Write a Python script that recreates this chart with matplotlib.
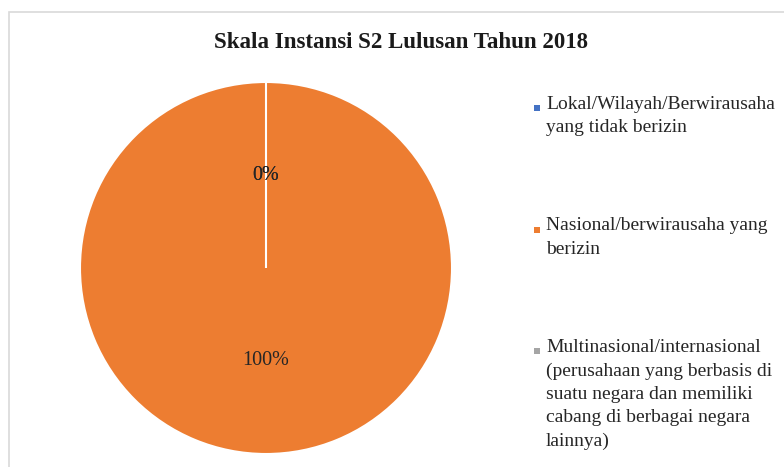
import matplotlib.pyplot as plt
from matplotlib.patches import Rectangle

categories = ['Lokal/Wilayah/Berwirausaha\nyang tidak berizin',
              'Nasional/berwirausaha yang\nberizin',
              'Multinasional/internasional\n(perusahaan yang berbasis di\nsuatu negara dan memiliki\ncabang di berbagai negara\nlainnya)']
values = [0, 100, 0]
colors = ['#4472C4', '#ED7D31', '#A5A5A5']

plt.rcParams['font.family'] = ['Liberation Serif', 'DejaVu Serif']

W, H = 784, 467
fig = plt.figure(figsize=(W / 100, H / 100), dpi=100)
# chart frame
fig.patches.append(Rectangle((9 / W, -0.1), 1.0, 1 - 12 / H + 0.1,
                             transform=fig.transFigure, fill=False,
                             edgecolor='#d9d9d9', linewidth=1.2))

ax = fig.add_axes([80 / W, 13 / H, 372 / W, 372 / H])
wedges, texts, autotexts = ax.pie(values, colors=colors, startangle=90, counterclock=False,
                                  autopct='%1.0f%%', pctdistance=0.5, radius=1,
                                  wedgeprops={'edgecolor': 'white', 'linewidth': 1.5},
                                  textprops={'fontsize': 14.5, 'color': '#262626'})
ax.set_xlim(-1, 1)
ax.set_ylim(-1, 1)
ax.set_aspect('equal')

fig.text(401 / W, 1 - 43 / H, 'Skala Instansi S2 Lulusan Tahun 2018',
         ha='center', va='center', fontsize=16.5, fontweight='bold', color='#1a1a1a')

# legend, marker aligned with the first line of each entry
for i, (lab, col) in enumerate(zip(categories, colors)):
    top = 96 + i * 121.5
    fig.patches.append(Rectangle((534 / W, 1 - (top + 15) / H), 6 / W, 6 / H,
                                 transform=fig.transFigure, facecolor=col, edgecolor='none'))
    fig.text(546 / W, 1 - top / H, lab, ha='left', va='top', fontsize=14,
             color='#262626', linespacing=1.48)

fig.savefig('out.png', dpi=100)
